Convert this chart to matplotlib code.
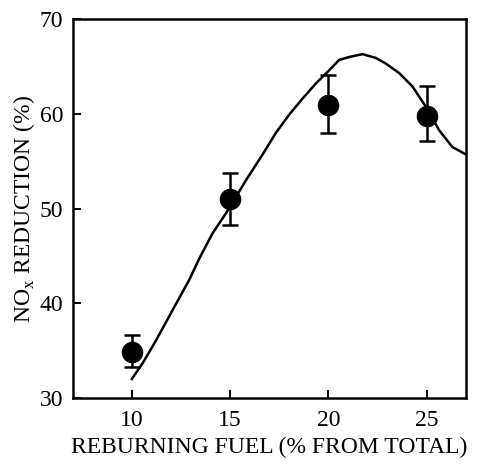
import numpy as np
import matplotlib
matplotlib.use('Agg')
from matplotlib import pyplot as plt

plt.rcParams['font.family'] = 'Liberation Serif'
plt.rcParams['mathtext.fontset'] = 'custom'
plt.rcParams['mathtext.rm'] = 'Liberation Serif'

# measured points
fuel = [10, 15, 20, 25]
nox = [34.9, 51.0, 60.9, 59.8]
err_lo = [1.6, 2.7, 2.9, 2.7]
err_hi = [1.8, 2.7, 3.2, 3.1]

# model curve
curve_x = [10.0, 10.56, 11.24, 12.08, 12.93, 13.44, 14.11, 14.79, 15.0, 15.81, 16.65,
           17.33, 18.0, 18.68, 19.36, 20.04, 20.55, 21.06, 21.73, 22.41, 22.92,
           23.6, 24.27, 25.0, 25.62, 26.3, 27.0]
curve_y = [32.0, 33.7, 36.1, 39.3, 42.5, 44.75, 47.4, 49.5, 50.2, 53.0, 55.7,
           58.0, 59.9, 61.6, 63.2, 64.6, 65.7, 66.0, 66.3, 65.9, 65.3,
           64.3, 62.9, 60.6, 58.3, 56.5, 55.7]

fig = plt.figure(figsize=(4.79, 4.66), dpi=100)
ax = fig.add_axes([0.152, 0.146, 0.821, 0.813])

ax.plot(curve_x, curve_y, color='black', lw=1.8)
ax.errorbar(fuel, nox, yerr=[err_lo, err_hi], fmt='o', color='black',
            markersize=14.5, elinewidth=1.8, capsize=6, capthick=1.8)

ax.set_xlim(7, 27)
ax.set_ylim(30, 70)
ax.set_xticks([10, 15, 20, 25])
ax.set_yticks([30, 40, 50, 60, 70])
ax.tick_params(direction='in', length=6, width=1.4, labelsize=17, top=False, right=False, pad=7)
ax.tick_params(axis='x', pad=9)
for s in ax.spines.values():
    s.set_linewidth(1.8)

ax.set_xlabel('REBURNING FUEL (% FROM TOTAL)', fontsize=17, labelpad=4)
ax.set_ylabel('NO$_\\mathregular{x}$ REDUCTION (%)', fontsize=17, labelpad=2)

plt.savefig('out.png', dpi=100)
